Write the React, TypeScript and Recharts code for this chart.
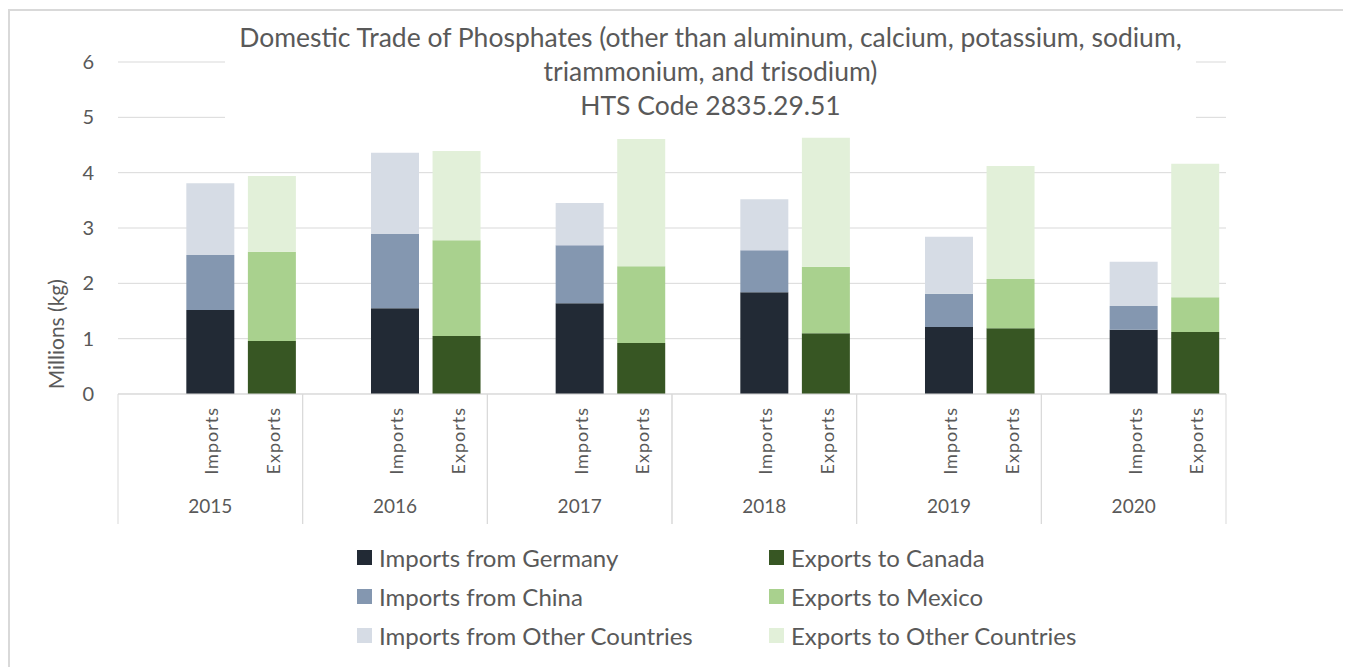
import React from "react";
import {
  BarChart,
  Bar,
  XAxis,
  YAxis,
  CartesianGrid,
  Legend,
  Label,
} from "recharts";

// categories (a blank slot opens each year group, like the Excel sheet)
const years = ["2015", "2016", "2017", "2018", "2019", "2020"];
const flows = ["", "Imports", "Exports"];

// millions of kg
const importsGermany = [1.52, 1.55, 1.64, 1.84, 1.21, 1.16];
const importsChina = [0.99, 1.34, 1.05, 0.76, 0.6, 0.43];
const importsOther = [1.3, 1.47, 0.76, 0.92, 1.03, 0.8];
const exportsCanada = [0.96, 1.05, 0.92, 1.1, 1.19, 1.12];
const exportsMexico = [1.61, 1.73, 1.39, 1.2, 0.89, 0.63];
const exportsOther = [1.37, 1.61, 2.3, 2.33, 2.04, 2.41];

const yTicks = [0, 1, 2, 3, 4, 5, 6];

const FONT = "Lato, 'Open Sans', sans-serif";
const TEXT = "#595959";
const GRID = "#d9d9d9";

const series = [
  { key: "germany", name: "Imports from Germany", color: "#222a35" },
  { key: "china", name: "Imports from China", color: "#8497b0" },
  { key: "otherImp", name: "Imports from Other Countries", color: "#d6dce5" },
  { key: "canada", name: "Exports to Canada", color: "#375623" },
  { key: "mexico", name: "Exports to Mexico", color: "#a9d18e" },
  { key: "otherExp", name: "Exports to Other Countries", color: "#e2f0d9" },
];

const data = years.flatMap((year, i) =>
  flows.map((cat) => {
    if (cat === "Imports")
      return {
        year,
        cat,
        germany: importsGermany[i],
        china: importsChina[i],
        otherImp: importsOther[i],
      };
    if (cat === "Exports")
      return {
        year,
        cat,
        canada: exportsCanada[i],
        mexico: exportsMexico[i],
        otherExp: exportsOther[i],
      };
    return { year, cat };
  })
);

const W = 1339;
const H = 660;
const MARGIN = { top: 51, right: 123, bottom: 16, left: 30 };
const Y_W = 78;
const PLOT_W = W - MARGIN.left - MARGIN.right - Y_W;
const CAT_H = 90;
const YEAR_H = 40;

const FlowTick = (props: any) => {
  const { x, y, payload } = props;
  if (!payload.value) return null;
  return (
    <text
      transform={`translate(${x + 1},${y + 5}) rotate(-90)`}
      textAnchor="end"
      dominantBaseline="central"
      fill={TEXT}
      fontSize={18}
      letterSpacing={1}
      fontFamily={FONT}
    >
      {payload.value}
    </text>
  );
};

const YearTick = (props: any) => {
  const { x, y, payload } = props;
  const half = PLOT_W / years.length / 2;
  return (
    <g>
      <line x1={x - half} x2={x - half} y1={y - CAT_H} y2={y + YEAR_H} stroke={GRID} />
      <line x1={x + half} x2={x + half} y1={y - CAT_H} y2={y + YEAR_H} stroke={GRID} />
      <text
        x={x}
        y={y + 21}
        textAnchor="middle"
        dominantBaseline="central"
        fill={TEXT}
        fontSize={19}
        fontFamily={FONT}
      >
        {payload.value}
      </text>
    </g>
  );
};

const renderLegend = (props: any) => {
  const order = series.map((s) => s.name);
  const payload = [...props.payload].sort(
    (a: any, b: any) => order.indexOf(a.value) - order.indexOf(b.value)
  );
  return (
    <div
      style={{
        display: "grid",
        gridTemplateColumns: "412px auto",
        gridTemplateRows: "repeat(3, 39px)",
        gridAutoFlow: "column",
        paddingTop: 14,
        marginLeft: 317,
        fontFamily: FONT,
        fontSize: 24,
        color: TEXT,
      }}
    >
      {payload.map((p: any) => (
        <div key={p.value} style={{ display: "flex", alignItems: "center" }}>
          <span
            style={{
              width: 15,
              height: 15,
              background: p.color,
              marginRight: 7,
              display: "inline-block",
            }}
          />
          {p.value}
        </div>
      ))}
    </div>
  );
};

const YLabel = (props: any) => {
  const { viewBox } = props;
  const cx = 45;
  const cy = viewBox.y + viewBox.height * 0.82;
  return (
    <text
      transform={`translate(${cx},${cy}) rotate(-90)`}
      textAnchor="middle"
      dominantBaseline="central"
      fill={TEXT}
      fontSize={21}
      fontFamily={FONT}
    >
      Millions (kg)
    </text>
  );
};

export default function App() {
  return (
    <div
      style={{
        position: "relative",
        width: W,
        height: H,
        marginTop: 1,
        borderTop: `2px solid ${GRID}`,
        borderLeft: `2px solid ${GRID}`,
        borderRight: `2px solid ${GRID}`,
        background: "#fff",
      }}
    >
      <BarChart
        width={W}
        height={H}
        data={data}
        margin={MARGIN}
        barCategoryGap="11%"
      >
        {/* GRID */}
        <CartesianGrid stroke={GRID} vertical={false} />

        {/* AXES */}
        <YAxis
          width={Y_W}
          domain={[0, 6]}
          ticks={yTicks}
          axisLine={false}
          tickLine={false}
          tickMargin={18}
          tick={{ fill: TEXT, fontSize: 20, fontFamily: FONT }}
        >
          <Label content={YLabel} />
        </YAxis>
        <XAxis
          dataKey="cat"
          height={CAT_H}
          interval={0}
          tickLine={false}
          axisLine={{ stroke: GRID }}
          tick={FlowTick}
        />
        <XAxis
          xAxisId="year"
          dataKey="year"
          allowDuplicatedCategory={false}
          height={YEAR_H}
          axisLine={false}
          tickLine={false}
          tickSize={0}
          tickMargin={0}
          interval={0}
          tick={YearTick}
        />

        {/* LEGEND */}
        <Legend verticalAlign="bottom" content={renderLegend} />

        {/* BARS */}
        {series.map((s) => (
          <Bar
            key={s.key}
            dataKey={s.key}
            name={s.name}
            stackId="trade"
            fill={s.color}
            isAnimationActive={false}
          />
        ))}
      </BarChart>

      {/* TITLE */}
      <div
        style={{
          position: "absolute",
          left: 215,
          top: 9,
          width: 971,
          background: "#fff",
          textAlign: "center",
          fontFamily: FONT,
          fontSize: 26.5,
          lineHeight: "34px",
          color: TEXT,
        }}
      >
        Domestic Trade of Phosphates (other than aluminum, calcium, potassium, sodium,
        <br />
        triammonium, and trisodium)
        <br />
        HTS Code 2835.29.51
      </div>
    </div>
  );
}
